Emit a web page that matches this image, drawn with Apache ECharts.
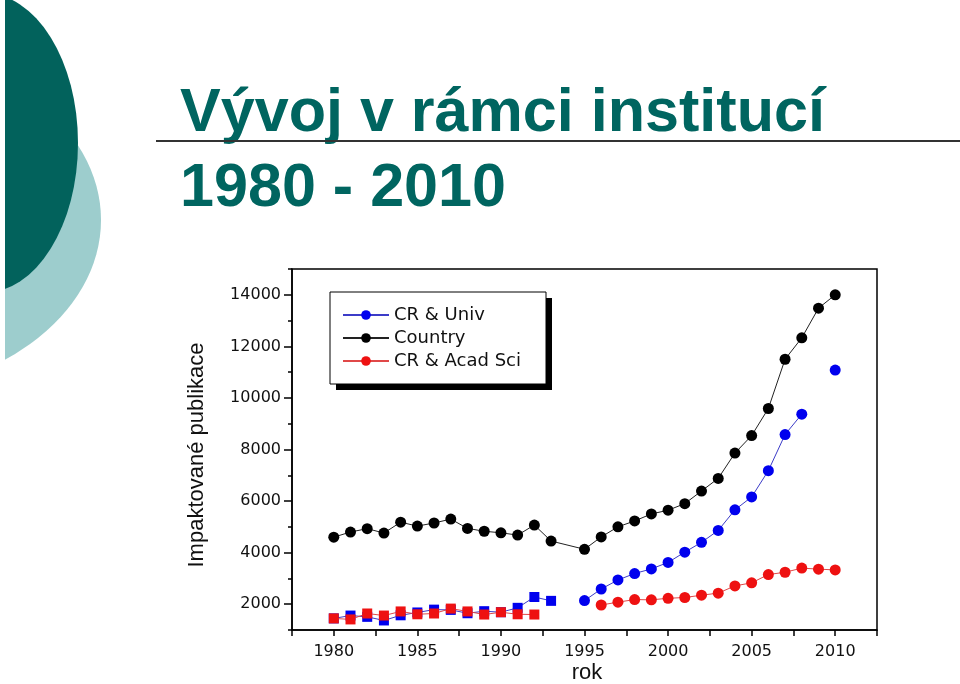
<!DOCTYPE html>
<html><head><meta charset="utf-8">
<script src="https://cdn.jsdelivr.net/npm/echarts@6/dist/echarts.min.js"></script>
<style>html,body{margin:0;padding:0;background:#fff}#c{width:960px;height:684px}</style>
</head><body><div id="c"></div>
<script>
const years = [1980,1981,1982,1983,1984,1985,1986,1987,1988,1989,1990,1991,1992,1993,1994,1995,1996,1997,1998,1999,2000,2001,2002,2003,2004,2005,2006,2007,2008,2009,2010];
const univ = [1450,1560,1510,1370,1570,1680,1790,1780,1650,1730,1690,1860,2280,2130,null,2140,2590,2940,3190,3370,3620,4020,4400,4860,5660,6160,7180,8580,9370,null,11080];
const country = [4600,4800,4930,4760,5180,5030,5150,5300,4940,4830,4770,4680,5070,4450,null,4130,4610,5000,5230,5500,5645,5900,6390,6880,7860,8540,9590,11500,12330,13480,14000];
const acad = [1450,1410,1640,1560,1720,1610,1640,1830,1720,1600,1690,1610,1600,null,null,null,1970,2080,2180,2170,2230,2260,2350,2430,2710,2830,3150,3240,3400,3360,3330];
const seriesNames = ['CR & Univ','Country','CR & Acad Sci'];
const xTickLabels = [1980,1985,1990,1995,2000,2005,2010];
const yTickLabels = [2000,4000,6000,8000,10000,12000,14000];
const titleLines = ['Vývoj v rámci institucí','1980 - 2010'];
const yName = 'Impaktované publikace';
const xName = 'rok';

function mixed(vals){
  return years.map((y,i)=> vals[i]==null ? {value:[y,'-']} :
    {value:[y, vals[i]], symbol: y<1994 ? 'rect' : 'circle', symbolSize: y<1994 ? 10 : 11});
}
const countryData = years.map((y,i)=>[y,country[i]]).filter(d=>d[1]!=null);

const chart = echarts.init(document.getElementById('c'), null, {renderer:'canvas'});
const teal = '#006560';
const yBase = {type:'value', min:1000, max:15000, interval:1000, splitLine:{show:false}};
chart.setOption({
  animation:false,
  backgroundColor:'#fff',
  graphic:[
    {type:'circle', x:-140, y:220, scaleX:241/175, shape:{cx:0,cy:0,r:175}, style:{fill:'#9dcdcd'}, z:0},
    {type:'circle', x:-16, y:143, scaleX:94/150, shape:{cx:0,cy:0,r:150}, style:{fill:'#02625c'}, z:1},
    {type:'rect', shape:{x:0,y:0,width:5,height:684}, style:{fill:'#fff'}, z:2},
    {type:'text', x:180, y:114, scaleX:0.985, style:{text:titleLines[0], fill:teal, font:'bold 62px "Liberation Sans", Arial, sans-serif', textAlign:'left', textVerticalAlign:'middle'}},
    {type:'text', x:180, y:189, scaleX:0.985, style:{text:titleLines[1], fill:teal, font:'bold 62px "Liberation Sans", Arial, sans-serif', textAlign:'left', textVerticalAlign:'middle'}},
    {type:'line', shape:{x1:156,y1:141,x2:960,y2:141}, style:{stroke:'#333', lineWidth:2}},
    {type:'text', x:197, y:455, rotation:Math.PI/2, style:{text:yName, fill:'#111', font:'22px "Liberation Sans", Arial, sans-serif', textAlign:'center', textVerticalAlign:'middle'}},
    {type:'text', x:587, y:673, style:{text:xName, fill:'#111', font:'22px "Liberation Sans", Arial, sans-serif', textAlign:'center', textVerticalAlign:'middle'}},
    {type:'rect', shape:{x:336,y:298,width:216,height:92}, style:{fill:'#000'}, z:10},
    {type:'rect', shape:{x:330,y:292,width:216,height:92}, style:{fill:'#fff', stroke:'#000', lineWidth:1}, z:11}
  ],
  grid:{left:292, right:83, top:269, bottom:54, show:true, borderColor:'#000', borderWidth:1.5,
    backgroundColor:'transparent', containLabel:false, outerBoundsMode:'none'},
  legend:{
    orient:'vertical', left:330, top:292, itemWidth:46, itemHeight:12, itemGap:5,
    padding:[14,12,14,12], z:20,
    selectedMode:false,
    textStyle:{fontFamily:'DejaVu Sans', fontSize:18, color:'#111'},
    data:seriesNames
  },
  xAxis:{
    type:'value', min:1977.5, max:2012.5, interval:2.5,
    axisLine:{lineStyle:{color:'#000', width:1.5}},
    axisTick:{length:6, lineStyle:{color:'#000', width:1.5}},
    axisLabel:{margin:14, color:'#111', fontFamily:'DejaVu Sans', fontSize:16,
      formatter:v=> xTickLabels.includes(v) ? String(v) : ''},
    splitLine:{show:false}
  },
  yAxis:[
    Object.assign({}, yBase, {
      axisLine:{show:true, lineStyle:{color:'#000', width:1.5}},
      axisTick:{show:true, length:4, lineStyle:{color:'#000', width:1.5}},
      axisLabel:{show:false}
    }),
    Object.assign({}, yBase, {
      position:'left', offset:0,
      axisLine:{show:false},
      axisTick:{show:true, length:8, customValues:yTickLabels, lineStyle:{color:'#000', width:1.5}},
      axisLabel:{margin:11, color:'#111', fontFamily:'DejaVu Sans', fontSize:16, customValues:yTickLabels,
        formatter:v=> yTickLabels.includes(v) ? String(v) : ''}
    })
  ],
  series:[
    {name:seriesNames[0], type:'line', data:mixed(univ), symbol:'circle', symbolSize:11,
      connectNulls:false, itemStyle:{color:'#0000ee'}, lineStyle:{color:'#3c3cc8', width:1}, z:2},
    {name:seriesNames[1], type:'line', data:countryData, symbol:'circle', symbolSize:11,
      itemStyle:{color:'#000'}, lineStyle:{color:'#222', width:1}, z:3},
    {name:seriesNames[2], type:'line', data:mixed(acad), symbol:'circle', symbolSize:11,
      connectNulls:false, itemStyle:{color:'#ee1111'}, lineStyle:{color:'#e04848', width:1}, z:4}
  ]
});
</script></body></html>
